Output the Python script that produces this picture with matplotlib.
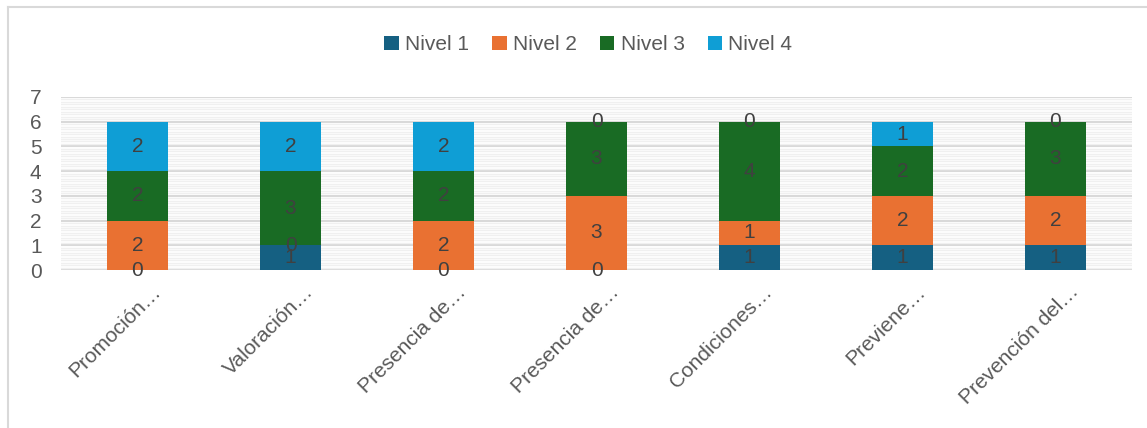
import numpy as np
import matplotlib
matplotlib.use("Agg")
import matplotlib.pyplot as plt
from matplotlib.transforms import ScaledTranslation

plt.rcParams['font.family'] = ['Liberation Sans', 'DejaVu Sans']

# categories and counts per level
categorias = ["Promoción…", "Valoración…", "Presencia de…", "Presencia de…",
              "Condiciones…", "Previene…", "Prevención del…"]
niveles = ["Nivel 1", "Nivel 2", "Nivel 3", "Nivel 4"]
nivel1 = [0, 1, 0, 0, 1, 1, 1]
nivel2 = [2, 0, 2, 3, 1, 2, 2]
nivel3 = [2, 3, 2, 3, 4, 2, 3]
nivel4 = [2, 2, 2, 0, 0, 1, 0]
colores = ["#156082", "#E97132", "#196B24", "#0F9ED5"]

fig = plt.figure(figsize=(11.47, 4.28), dpi=100)
ax = fig.add_axes([61 / 1147, 158 / 428, 1071 / 1147, 173 / 428])

x = np.arange(len(categorias))
base = np.zeros(len(categorias))
for nombre, vals, col in zip(niveles, [nivel1, nivel2, nivel3, nivel4], colores):
    vals = np.array(vals, dtype=float)
    ax.bar(x, vals, 0.4, bottom=base, color=col, label=nombre, zorder=3)
    for xi, b, v in zip(x, base, vals):
        ax.text(xi, b + v / 2, f"{int(v)}", ha="center", va="center",
                fontsize=15, color="#404040", zorder=4)
    base += vals

ax.set_xlim(-0.5, len(categorias) - 0.5)
ax.set_ylim(0, 7)
ax.set_yticks(range(0, 8))
ax.set_yticks(np.arange(0, 7.01, 0.1), minor=True)
ax.grid(axis="y", which="major", color="#D9D9D9", linewidth=1.5, zorder=1)
ax.grid(axis="y", which="minor", color="#F0F0F0", linewidth=1.0, zorder=0)
ax.tick_params(axis="both", which="both", length=0, labelsize=15, colors="#595959")
ax.tick_params(axis="y", pad=14)
for s in ax.spines.values():
    s.set_visible(False)

ax.set_xticks(x)
ax.set_xticklabels(categorias, rotation=45, ha="right", va="center",
                   rotation_mode="anchor")
off = ScaledTranslation(0.20, -0.14, fig.dpi_scale_trans)
for lbl in ax.get_xticklabels():
    lbl.set_transform(lbl.get_transform() + off)

fig.legend(loc="center", bbox_to_anchor=(0.513, 0.895), ncol=4, frameon=False,
           fontsize=15, labelcolor="#595959", handlelength=0.7, handleheight=0.7,
           handletextpad=0.3, columnspacing=1.1)

# chart area border
fig.add_artist(plt.Line2D([8 / 1147, 1.0], [1 - 7 / 428] * 2, color="#D9D9D9",
                          linewidth=1.5, transform=fig.transFigure))
fig.add_artist(plt.Line2D([8 / 1147] * 2, [0, 1 - 7 / 428], color="#D9D9D9",
                          linewidth=1.5, transform=fig.transFigure))

fig.savefig("out.png", dpi=100)
